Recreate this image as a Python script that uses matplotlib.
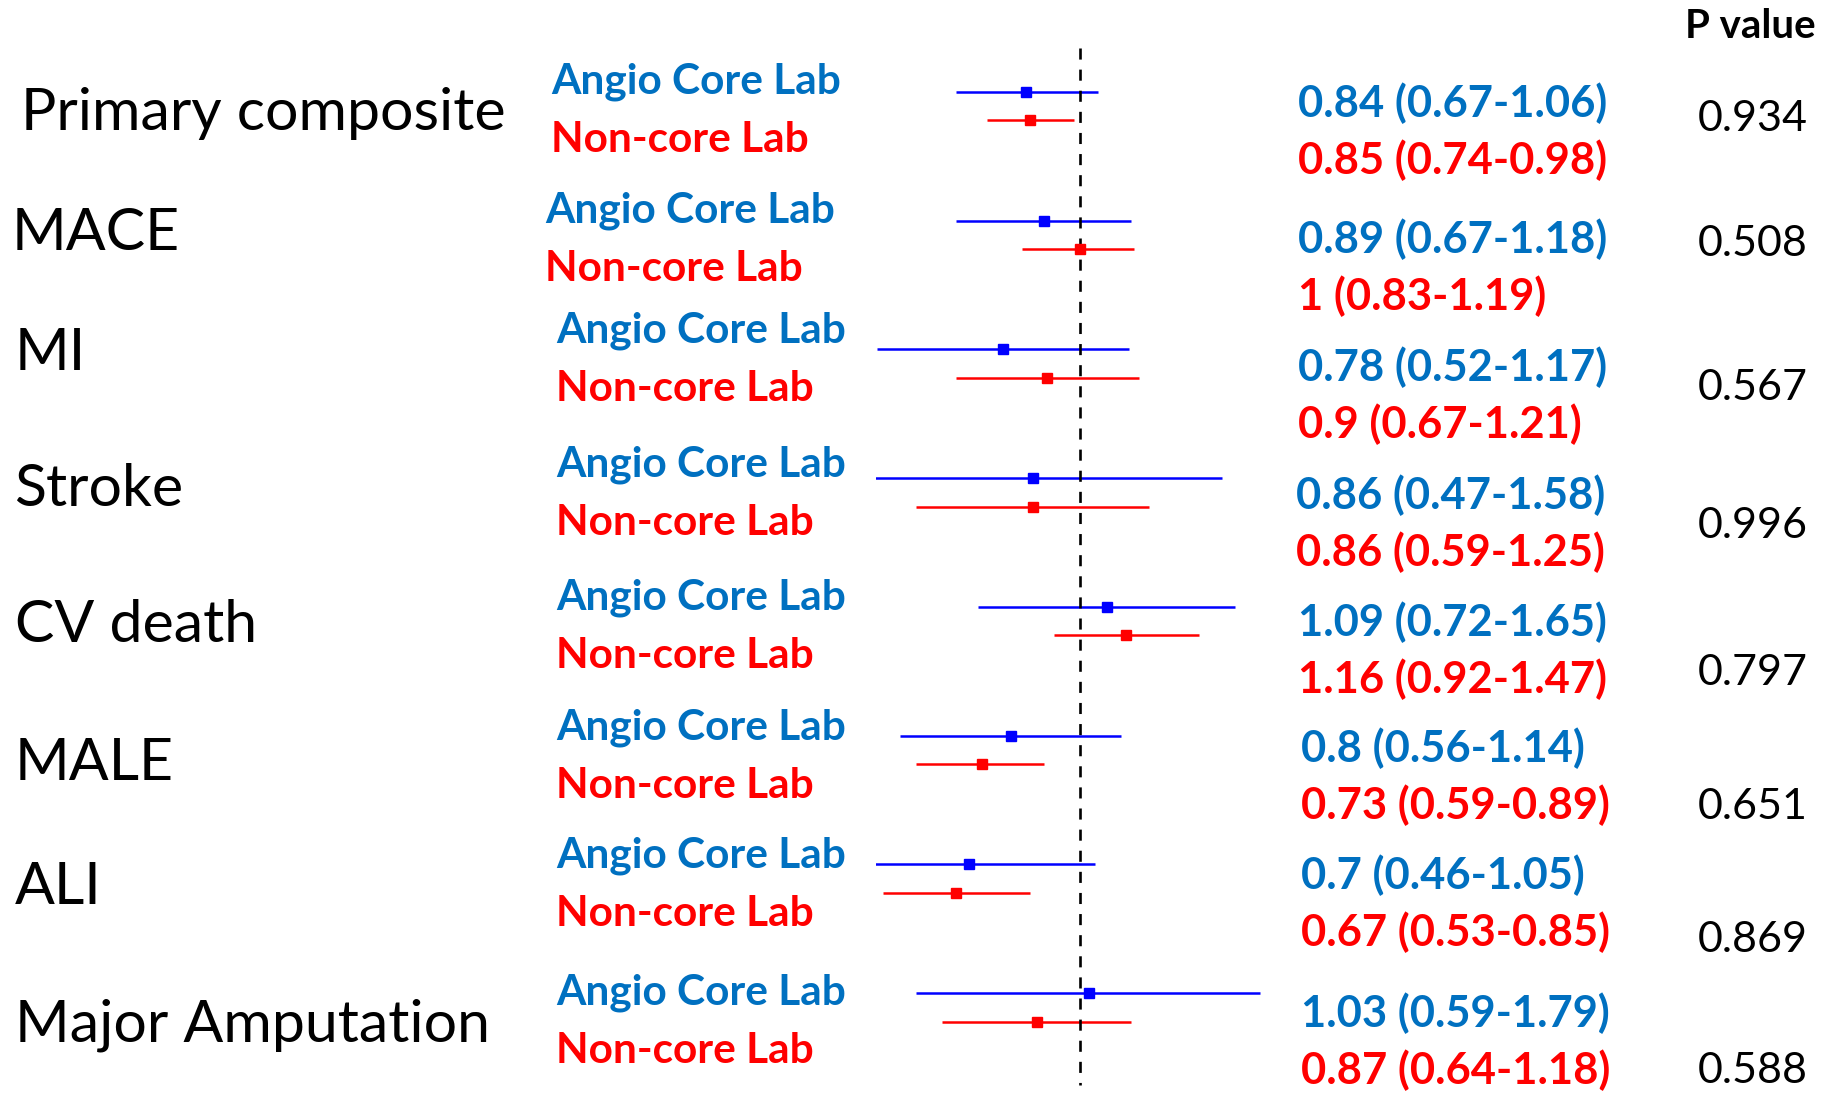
import numpy as np
import matplotlib.pyplot as plt

# Outcomes, hazard ratios (95% CI) for angio core lab vs non-core lab, and interaction p values
outcomes = ['Primary composite', 'MACE', 'MI', 'Stroke', 'CV death', 'MALE', 'ALI', 'Major Amputation']
core_hr = [0.84, 0.89, 0.78, 0.86, 1.09, 0.80, 0.70, 1.03]
core_lo = [0.67, 0.67, 0.52, 0.47, 0.72, 0.56, 0.46, 0.59]
core_hi = [1.06, 1.18, 1.17, 1.58, 1.65, 1.14, 1.05, 1.79]
noncore_hr = [0.85, 1.00, 0.90, 0.86, 1.16, 0.73, 0.67, 0.87]
noncore_lo = [0.74, 0.83, 0.67, 0.59, 0.92, 0.59, 0.53, 0.64]
noncore_hi = [0.98, 1.19, 1.21, 1.25, 1.47, 0.89, 0.85, 1.18]
p_values = ['0.934', '0.508', '0.567', '0.996', '0.797', '0.651', '0.869', '0.588']

# text layout in pixels (figure is 1829 x 1094)
label_x = [21, 12, 15, 14, 15, 15, 15, 15]
label_y = [113, 233, 353, 490, 626, 764, 887, 1025]
group_x = [551, 545, 556, 556, 556, 556, 556, 556]
group_y = [82, 211, 331, 465, 598, 728, 856, 993]
value_x = [1298, 1298, 1298, 1296, 1298, 1301, 1301, 1301]
value_y = [103, 239, 367, 495, 622, 748, 875, 1013]
pval_y = [119, 244, 388, 526, 673, 807, 940, 1071]

BLUE = '#0000ff'
RED = '#ff0000'
TXT_BLUE = '#0070c0'
FONT = 'Lato'

W, H = 1829, 1094
fig = plt.figure(figsize=(W / 100, H / 100), dpi=100)

# forest panel: log hazard-ratio axis cut at 0.518 on the left, one row per outcome
left_px = 876
ax = fig.add_axes([left_px / W, 0, 1 - left_px / W, 1])
ax.set_xscale('log')
ax.set_xlim(0.518, 11.2)
ax.set_ylim(7.671, -0.823)
ax.axis('off')

rows = np.arange(len(outcomes))
off = 0.111
core_hr = np.array(core_hr)
noncore_hr = np.array(noncore_hr)
ax.errorbar(core_hr, rows - off,
            xerr=[core_hr - np.array(core_lo), np.array(core_hi) - core_hr],
            fmt='s', color=BLUE, ms=6.5, elinewidth=1.8, capsize=0)
ax.errorbar(noncore_hr, rows + off,
            xerr=[noncore_hr - np.array(noncore_lo), np.array(noncore_hi) - noncore_hr],
            fmt='s', color=RED, ms=6.5, elinewidth=1.8, capsize=0)
ax.vlines(1, -0.45, 7.6, colors='black', linestyles=(0, (4.2, 3.8)), lw=1.9)

# text overlay in pixel coordinates
tx = fig.add_axes([0, 0, 1, 1])
tx.set_xlim(0, W)
tx.set_ylim(H, 0)
tx.axis('off')
tx.patch.set_alpha(0)

tx.text(1750, 27, 'P value', ha='center', va='center', fontsize=29,
        fontweight='bold', family=FONT)

for i, name in enumerate(outcomes):
    tx.text(label_x[i], label_y[i], name, ha='left', va='center', fontsize=42.5,
            family=FONT)
    tx.text(group_x[i], group_y[i], 'Angio Core Lab', ha='left', va='center',
            fontsize=30.5, fontweight='bold', color=TXT_BLUE, family=FONT)
    tx.text(group_x[i], group_y[i] + 58, 'Non-core Lab', ha='left', va='center',
            fontsize=30.5, fontweight='bold', color=RED, family=FONT)
    tx.text(value_x[i], value_y[i],
            f'{core_hr[i]:g} ({core_lo[i]:g}-{core_hi[i]:g})',
            ha='left', va='center', fontsize=31.3, fontweight='bold',
            color=TXT_BLUE, family=FONT)
    tx.text(value_x[i], value_y[i] + 57,
            f'{noncore_hr[i]:g} ({noncore_lo[i]:g}-{noncore_hi[i]:g})',
            ha='left', va='center', fontsize=31.3, fontweight='bold',
            color=RED, family=FONT)
    tx.text(1753, pval_y[i], p_values[i], ha='center', va='center',
            fontsize=31, family=FONT)

fig.savefig('out.png', dpi=100)
